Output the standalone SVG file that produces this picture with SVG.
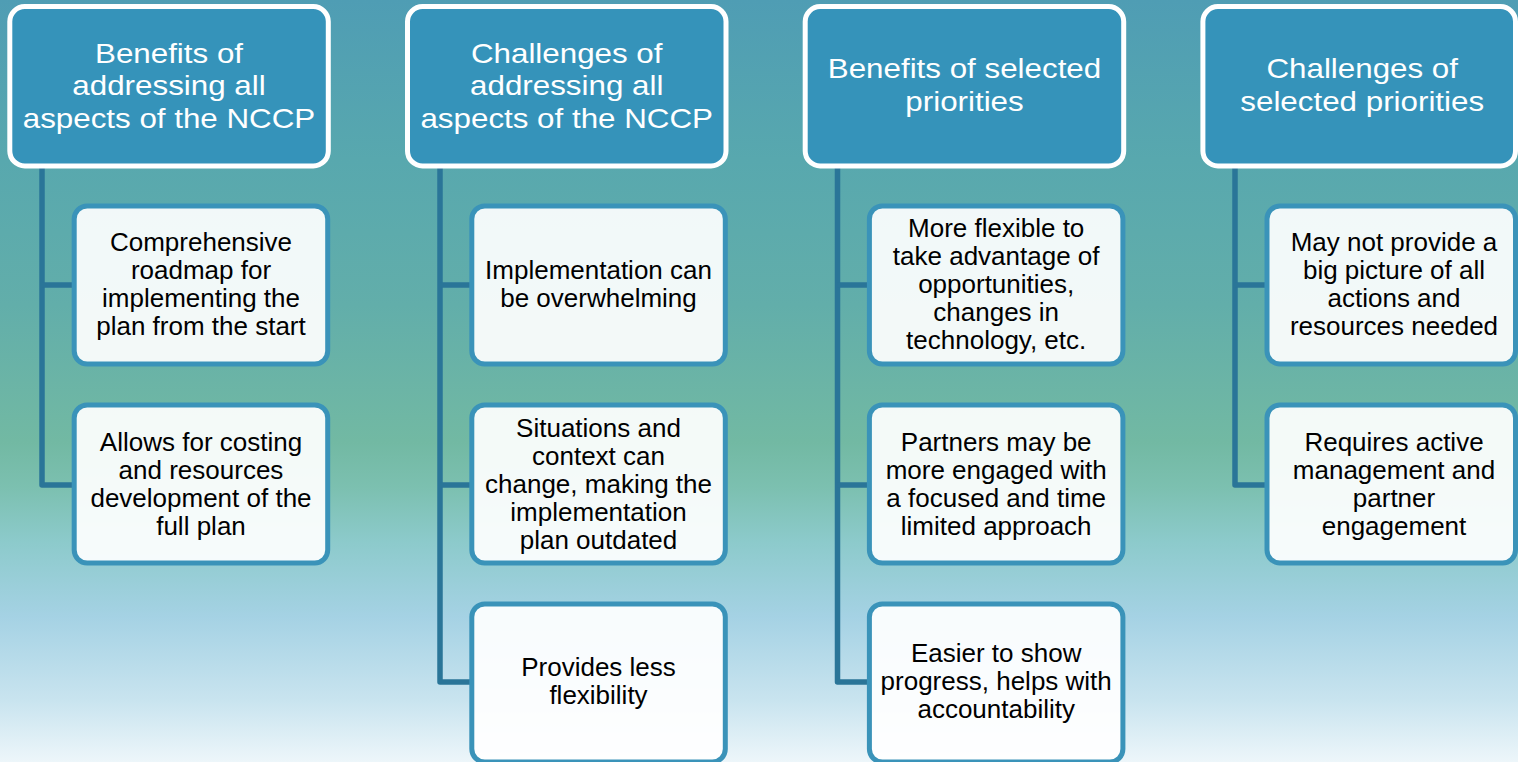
<svg xmlns="http://www.w3.org/2000/svg" width="1518" height="762" viewBox="0 0 1518 762">
<defs>
<linearGradient id="bg" x1="0" y1="0" x2="0" y2="1">
<stop offset="0" stop-color="#4f9db4"/>
<stop offset="0.21" stop-color="#58a8ae"/>
<stop offset="0.40" stop-color="#62aeaa"/>
<stop offset="0.58" stop-color="#72b9a3"/>
<stop offset="0.64" stop-color="#7cc0b0"/>
<stop offset="0.71" stop-color="#8ccacb"/>
<stop offset="0.81" stop-color="#a5d2e4"/>
<stop offset="0.92" stop-color="#c9e4ef"/>
<stop offset="1" stop-color="#edf6fa"/>
</linearGradient>
<style>
.hdr{fill:#3593ba;stroke:#ffffff;stroke-width:5}
.hdrt{font-family:"Liberation Sans",Arial,sans-serif;font-size:28.5px;fill:#ffffff;text-anchor:middle}
.box{fill:#ffffff;fill-opacity:0.92;stroke:#3a93b9;stroke-width:5}
.boxt{font-family:"Liberation Sans",Arial,sans-serif;font-size:26px;fill:#000000;text-anchor:middle}
.con{fill:none;stroke:#2a7598;stroke-width:5.5;stroke-linejoin:round}
</style>
</defs>
<rect x="0" y="0" width="1518" height="762" fill="url(#bg)"/>

<g id="connectors">
<path class="con" d="M42 168 V485 H74"/>
<path class="con" d="M42 285 H74"/>
<path class="con" d="M440 168 V682 H472"/>
<path class="con" d="M440 285 H472"/>
<path class="con" d="M440 485 H472"/>
<path class="con" d="M837.5 168 V682 H869"/>
<path class="con" d="M837.5 285 H869"/>
<path class="con" d="M837.5 485 H869"/>
<path class="con" d="M1235 168 V485 H1267"/>
<path class="con" d="M1235 285 H1267"/>
</g>

<g id="h1">
<rect class="hdr" x="9.8" y="6.5" width="318.5" height="159.5" rx="15"/>
<g transform="translate(169,0) scale(1.1,1)">
<text class="hdrt" x="0" y="63">Benefits of</text>
<text class="hdrt" x="0" y="95.5">addressing all</text>
<text class="hdrt" x="0" y="128">aspects of the NCCP</text>
</g>
</g>
<g id="h2">
<rect class="hdr" x="407.5" y="6.5" width="318.5" height="159.5" rx="15"/>
<g transform="translate(566.7,0) scale(1.1,1)">
<text class="hdrt" x="0" y="63">Challenges of</text>
<text class="hdrt" x="0" y="95.5">addressing all</text>
<text class="hdrt" x="0" y="128">aspects of the NCCP</text>
</g>
</g>
<g id="h3">
<rect class="hdr" x="805.2" y="6.5" width="318.5" height="159.5" rx="15"/>
<g transform="translate(964.5,0) scale(1.1,1)">
<text class="hdrt" x="0" y="78.5">Benefits of selected</text>
<text class="hdrt" x="0" y="111">priorities</text>
</g>
</g>
<g id="h4">
<rect class="hdr" x="1202.9" y="6.5" width="312.6" height="159.5" rx="15"/>
<g transform="translate(1362.2,0) scale(1.1,1)">
<text class="hdrt" x="0" y="78.5">Challenges of</text>
<text class="hdrt" x="0" y="111">selected priorities</text>
</g>
</g>

<g id="c1a">
<rect class="box" x="74.2" y="206" width="253.5" height="158" rx="13"/>
<text class="boxt" x="201" y="251">Comprehensive</text>
<text class="boxt" x="201" y="279">roadmap for</text>
<text class="boxt" x="201" y="307">implementing the</text>
<text class="boxt" x="201" y="335">plan from the start</text>
</g>
<g id="c1b">
<rect class="box" x="74.2" y="405" width="253.5" height="158" rx="13"/>
<text class="boxt" x="201" y="451">Allows for costing</text>
<text class="boxt" x="201" y="479">and resources</text>
<text class="boxt" x="201" y="507">development of the</text>
<text class="boxt" x="201" y="535">full plan</text>
</g>

<g id="c2a">
<rect class="box" x="471.8" y="206" width="253.5" height="158" rx="13"/>
<text class="boxt" x="598.5" y="279">Implementation can</text>
<text class="boxt" x="598.5" y="307">be overwhelming</text>
</g>
<g id="c2b">
<rect class="box" x="471.8" y="405" width="253.5" height="158" rx="13"/>
<text class="boxt" x="598.5" y="437">Situations and</text>
<text class="boxt" x="598.5" y="465">context can</text>
<text class="boxt" x="598.5" y="493">change, making the</text>
<text class="boxt" x="598.5" y="521">implementation</text>
<text class="boxt" x="598.5" y="549">plan outdated</text>
</g>
<g id="c2c">
<rect class="box" x="471.8" y="604" width="253.5" height="158" rx="13"/>
<text class="boxt" x="598.5" y="676">Provides less</text>
<text class="boxt" x="598.5" y="704">flexibility</text>
</g>

<g id="c3a">
<rect class="box" x="869.4" y="206" width="253.5" height="158" rx="13"/>
<text class="boxt" x="996.2" y="237">More flexible to</text>
<text class="boxt" x="996.2" y="265">take advantage of</text>
<text class="boxt" x="996.2" y="293">opportunities,</text>
<text class="boxt" x="996.2" y="321">changes in</text>
<text class="boxt" x="996.2" y="349">technology, etc.</text>
</g>
<g id="c3b">
<rect class="box" x="869.4" y="405" width="253.5" height="158" rx="13"/>
<text class="boxt" x="996.2" y="451">Partners may be</text>
<text class="boxt" x="996.2" y="479">more engaged with</text>
<text class="boxt" x="996.2" y="507">a focused and time</text>
<text class="boxt" x="996.2" y="535">limited approach</text>
</g>
<g id="c3c">
<rect class="box" x="869.4" y="604" width="253.5" height="158" rx="13"/>
<text class="boxt" x="996.2" y="662">Easier to show</text>
<text class="boxt" x="996.2" y="690">progress, helps with</text>
<text class="boxt" x="996.2" y="718">accountability</text>
</g>

<g id="c4a">
<rect class="box" x="1267" y="206" width="248.5" height="158" rx="13"/>
<text class="boxt" x="1394" y="251">May not provide a</text>
<text class="boxt" x="1394" y="279">big picture of all</text>
<text class="boxt" x="1394" y="307">actions and</text>
<text class="boxt" x="1394" y="335">resources needed</text>
</g>
<g id="c4b">
<rect class="box" x="1267" y="405" width="248.5" height="158" rx="13"/>
<text class="boxt" x="1394" y="451">Requires active</text>
<text class="boxt" x="1394" y="479">management and</text>
<text class="boxt" x="1394" y="507">partner</text>
<text class="boxt" x="1394" y="535">engagement</text>
</g>
</svg>
